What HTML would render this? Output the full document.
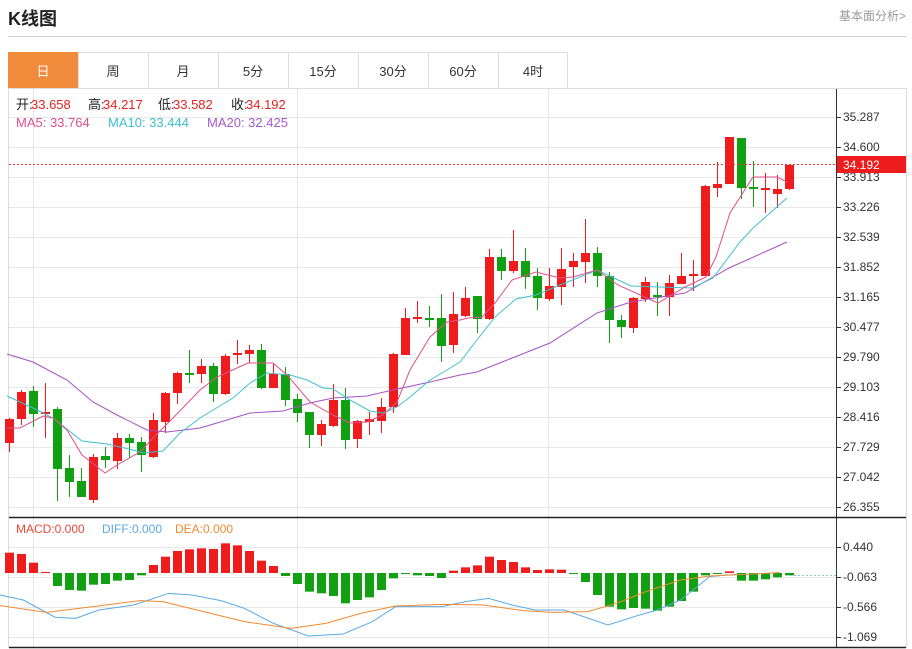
<!DOCTYPE html>
<html><head><meta charset="utf-8"><style>
body{margin:0;width:912px;height:649px;background:#fff;font-family:"Liberation Sans","Noto Sans CJK SC",sans-serif;overflow:hidden;position:relative}
.t{position:absolute;white-space:nowrap}
</style></head><body>
<div class="t" style="left:8px;top:5px;font-size:18px;font-weight:bold;color:#222">K线图</div>
<div class="t" style="right:6px;top:7px;font-size:12px;color:#999">基本面分析&gt;</div>
<div style="position:absolute;left:8px;top:36px;width:898px;height:1px;background:#d0d0d0"></div>
<svg id="s" width="912" height="649" style="position:absolute;left:0;top:0"></svg>
<script>
var s=document.getElementById('s'),h='';
function L(x1,y1,x2,y2,c,w,d){h+='<line x1="'+x1+'" y1="'+y1+'" x2="'+x2+'" y2="'+y2+'" stroke="'+c+'" stroke-width="'+(w||1)+'"'+(d?' stroke-dasharray="'+d+'"':'')+'/>';}
function R(x,y,w,hh,c,st){h+='<rect x="'+x+'" y="'+y+'" width="'+w+'" height="'+hh+'" fill="'+c+'"'+(st?' stroke="'+st+'"':'')+'/>';}
function T(x,y,t,c,sz,a){h+='<text x="'+x+'" y="'+y+'" fill="'+c+'" font-size="'+(sz||12)+'"'+(a?' text-anchor="'+a+'"':'')+'>'+t+'</text>';}
function P(pts,c,w){h+='<polyline fill="none" stroke="'+c+'" stroke-width="'+(w||1)+'" points="'+pts.map(function(p){return p.join(',')}).join(' ')+'"/>';}
var tabs=['日','周','月','5分','15分','30分','60分','4时'];
R(8.5,52.5,559,36,'#fff','#ddd');
for(var i=0;i<8;i++){var x=8+70*i;if(i==0)R(8,52,70,36,'#f18b3c');else L(x+0.5,52,x+0.5,88,'#ddd');
T(x+35,76,tabs[i],i==0?'#fff':'#333',13,'middle');}
L(8.5,88,8.5,648,'#ddd');L(906.5,88,906.5,648,'#ddd');L(8,88.5,906,88.5,'#ddd');
for(var k=0;k<14;k++){var y=117+30*k;L(9,y+0.5,836,y+0.5,'#e8e8e8');}
[547,577,607,637].forEach(function(y){L(9,y+0.5,836,y+0.5,'#e8e8e8');});
[33,297,548].forEach(function(x){L(x+0.5,89,x+0.5,647,'#e8e8e8');});
L(836.5,89,836.5,648,'#333');
L(9,517.5,906,517.5,'#222',1.5);L(9,647.5,906,647.5,'#222',1.5);
var lab=['35.287','34.600','33.913','33.226','32.539','31.852','31.165','30.477','29.790','29.103','28.416','27.729','27.042','26.355'];
lab.forEach(function(t,k){var y=117+30*k;L(837,y+0.5,841,y+0.5,'#333');T(843,y+4,t,'#333',12);});
['0.440','-0.063','-0.566','-1.069'].forEach(function(t,k){var y=547+30*k;L(837,y+0.5,841,y+0.5,'#333');T(843,y+4,t,'#333',12);});
var C=[[1,419,443,418,452],[1,392,419,390,425],[0,391,414,386,427],[1,412,413,383,438],[0,409,469,407,501],[0,468,482,455,497],[0,481,497,468,497],[1,457,500,454,503],[0,456,460,447,468],[1,438,461,433,469],[0,438,443,434,458],[0,442,455,437,472],[1,420,457,413,458],[1,393,422,392,433],[1,373,393,372,404],[0,373,374,350,383],[1,366,374,359,383],[0,366,394,363,402],[1,356,394,354,395],[1,353,355,340,364],[1,350,354,345,363],[0,350,388,344,389],[1,374,388,363,388],[0,374,400,367,406],[0,399,413,394,422],[0,412,435,412,448],[1,424,435,420,446],[1,400,426,384,427],[0,400,440,388,449],[1,421,439,420,448],[1,419,422,412,435],[1,407,421,398,433],[1,354,407,353,413],[1,318,355,308,355],[1,317,318,301,323],[0,318,319,306,327],[0,318,346,294,362],[1,314,345,292,353],
[1,298,316,287,317],[0,296,319,296,333],[1,257,319,249,320],[0,257,271,249,280],[1,261,271,230,273],[0,261,277,248,289],[0,276,298,268,310],[1,286,299,268,301],[1,269,287,248,305],[1,261,267,253,287],[1,253,262,219,283],[0,253,276,247,287],[0,276,320,272,343],[0,320,327,315,338],[1,298,328,297,333],[1,282,299,277,302],[0,295,297,282,316],[1,283,297,275,316],[1,276,284,253,284],[1,274,275,260,291],[1,186,276,185,276],[1,184,188,162,197],[1,137,184,137,184],[0,138,188,138,199],[0,187,189,161,207],[1,188,189,173,213],[1,189,194,175,208],[1,165,189,164,190]];
var RED='#ee1c1c',GRN='#11a011';
C.forEach(function(c,i){var x=9+12*i,col=c[0]?RED:GRN;L(x+0.5,c[3],x+0.5,c[4],col);var bh=Math.max(c[2]-c[1],2);R(x-4,c[1],9,bh,col);});
L(9,164.5,836,164.5,'#ee3333',1,'2,2');
R(837,156,69,17,'#ee1c1c');T(843,169,'34.192','#fff',12);
P([[7,354],[33,362],[67,380],[93,402],[117,415],[147,430],[167,432],[200,428],[227,420],[250,413],[283,411],[310,403],[333,398],[367,396],[393,390],[430,382],[460,375],[477,372],[550,343],[597,313],[631,302],[685,293],[729,268],[787,242]],'#a552c4');
P([[7,396],[33,408],[53,418],[82,441],[107,444],[133,450],[143,453],[163,451],[180,433],[200,418],[213,410],[233,398],[250,383],[267,373],[290,375],[307,380],[323,388],[333,389],[350,400],[370,411],[383,413],[397,407],[410,397],[430,380],[447,370],[460,362],[477,340],[495,317],[516,299],[536,295],[560,285],[597,270],[631,286],[658,287],[692,288],[713,278],[740,242],[753,228],[787,198]],'#40c0d0');
P([[7,428],[20,428],[43,416],[53,418],[67,430],[82,455],[105,473],[117,465],[140,452],[153,438],[173,418],[200,390],[217,377],[237,368],[248,363],[273,363],[287,375],[310,402],[333,415],[350,423],[367,422],[383,415],[397,402],[410,370],[430,337],[447,322],[460,320],[468,318],[482,317],[495,303],[512,280],[536,272],[560,278],[573,277],[597,270],[618,285],[658,303],[685,287],[706,277],[716,257],[730,213],[753,177],[777,177],[787,182]],'#e0508a');
[['开:','33.658'],['高:','34.217'],['低:','33.582'],['收:','34.192']].forEach(function(p,k){var x=[16,88,158,231][k];T(x,109,p[0],'#222',13);T(x+15,109,p[1],'#e8231e',13);});
T(16,127,'MA5: 33.764','#e0508a',13);T(108,127,'MA10: 33.444','#3cc0d0',13);T(207,127,'MA20: 32.425','#a55ac8',13);
var M=[128,132,158,186,228,240,242,224,222,212,210,196,165,140,123,118,115,117,100,106,123,152,168,198,222,245,250,258,280,270,262,240,205,191,196,198,204,182,172,166,140,150,156,172,180,178,179,190,216,255,290,298,294,296,302,290,273,245,196,191,184,212,212,208,202,196];
var B=573;
M.forEach(function(v,i){var y=v/3+510,x=9+12*i-4;if(y<B)R(x,y,9,B-y,RED);else R(x,B,9,Math.max(y-B,1),GRN);});
L(790,575.5,836,575.5,'#8cc','1','2,2');
function cv(a){return a.map(function(p){return [p[0]/1.719,p[1]/3+510]});}
P(cv([[0,255],[40,270],[95,322],[130,325],[170,300],[230,285],[290,250],[330,255],[380,272],[420,295],[470,340],[530,378],[590,372],[640,335],[680,290],[760,290],[800,275],[840,265],[880,285],[920,300],[970,300],[1045,345],[1090,320],[1130,300],[1170,270],[1220,200],[1250,195],[1340,188]]),'#5aa9e6');
P(cv([[0,287],[80,307],[160,290],[240,272],[280,275],[350,305],[420,335],[500,355],[560,340],[620,310],[680,288],[760,283],[830,285],[900,302],[950,307],[1010,305],[1060,280],[1110,245],[1170,210],[1220,198],[1340,188]]),'#f08a30');
T(16,533,'MACD:0.000','#e84a3a',12);T(102,533,'DIFF:0.000','#5aa9e6',12);T(175,533,'DEA:0.000','#f08a30',12);
s.innerHTML=h;
</script>
</body></html>
